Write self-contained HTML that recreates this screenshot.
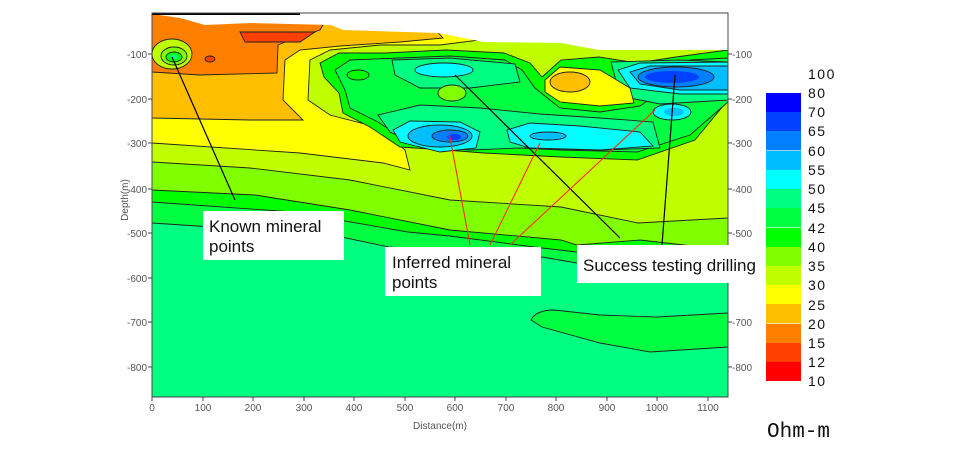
<!DOCTYPE html>
<html><head><meta charset="utf-8"><style>
html,body{margin:0;padding:0;background:#fff;}
svg{display:block;}
.t{font-family:"Liberation Sans",sans-serif;font-size:10px;fill:#555;}
.a{font-family:"Liberation Sans",sans-serif;font-size:17px;fill:#111;}
.c{stroke:#222;stroke-width:0.9;}
</style></head><body>
<svg width="960" height="476" viewBox="0 0 960 476" xmlns="http://www.w3.org/2000/svg">
<defs><clipPath id="pc"><rect x="152" y="13" width="576" height="384"/></clipPath></defs>
<g clip-path="url(#pc)">
<rect x="152" y="13" width="576" height="384" fill="#00ff80"/>
<path class="c" d="M152,13 H728 V270 L640,262 577,263 542,257 389,247 332,235 152,223 Z" fill="#00ff40"/>
<path class="c" d="M152,13 H728 V262 L640,252 577,252 542,248 450,236 408,232 293,212 152,202 Z" fill="#00ff00"/>
<path class="c" d="M152,13 H728 V250 L640,240 577,245 561,240 450,230 350,210 255,195 152,190 Z" fill="#80ff00"/>
<path class="c" d="M152,13 H728 V218 L638,223 561,207 450,200 350,180 250,168 152,162 Z" fill="#bfff00"/>
<path class="c" d="M152,13 H500 L480,40 440,45 380,45 330,50 310,60 308,100 330,115 380,128 405,150 410,170 383,163 300,153 152,143 Z" fill="#ffff00"/>
<path class="c" d="M152,13 H420 L443,38 400,42 340,46 300,50 285,60 283,100 303,120 250,120 152,118 Z" fill="#ffbf00"/>
<path class="c" d="M152,13 H330 L320,30 290,40 278,45 277,73 200,75 152,72 Z" fill="#ff8000"/>
<path class="c" d="M240,32 L315,32 L300,42 L245,42 Z" fill="#ff4000"/>
<ellipse cx="210" cy="59" rx="5" ry="3" fill="#ff4000" class="c"/>
<ellipse cx="172" cy="54" rx="20" ry="15" fill="#bfff00" class="c"/>
<ellipse cx="174" cy="56" rx="13" ry="9" fill="#80ff00" class="c"/>
<ellipse cx="174" cy="57" rx="8" ry="5" fill="#00ff00" class="c"/>
<ellipse cx="174" cy="57" rx="4" ry="2.5" fill="#00ff80"/>
<path class="c" d="M320,63 339,53 385,53 446,50 504,53 530,63 542,77 561,60 599,57 637,63 676,57 728,50 728,100 695,140 637,160 561,157 484,153 446,150 400,147 370,127 343,113 339,93 324,77Z" fill="#00ff00"/>
<path class="c" d="M335,70 350,60 400,58 450,56 505,60 522,70 535,88 560,108 600,112 640,106 660,92 640,70 690,60 728,58 728,102 690,135 637,152 560,150 484,146 445,143 405,140 378,122 350,108 345,90Z" fill="#00ff40"/>
<path class="c" d="M392,60 450,58 515,64 520,82 470,88 420,88 395,75Z M378,115 420,105 480,108 540,114 600,118 653,122 660,148 600,150 520,148 470,150 420,146 390,132Z M611,62 680,60 728,62 728,100 660,104 620,96Z" fill="#00ff80"/>
<ellipse cx="452" cy="93" rx="14" ry="8" fill="#80ff00" class="c"/>
<ellipse cx="358" cy="75" rx="11" ry="5" fill="#00ff00" class="c"/>
<path class="c" d="M545,80 560,67 600,70 630,88 634,103 600,106 560,102 545,92Z" fill="#ffff00"/>
<ellipse cx="570" cy="82" rx="20" ry="10" fill="#ffbf00" class="c"/>
<ellipse cx="444" cy="70" rx="29" ry="7" fill="#00ffff" class="c"/>
<path class="c" d="M393,130 410,121 460,122 480,132 476,148 440,152 400,142Z" fill="#00ffff"/>
<ellipse cx="440" cy="136" rx="32" ry="11" fill="#00bfff" class="c"/>
<ellipse cx="450" cy="136" rx="18" ry="6" fill="#0080ff" class="c"/>
<ellipse cx="454" cy="137" rx="7" ry="3" fill="#0040ff"/>
<path class="c" d="M507,130 530,123 580,126 640,132 653,146 600,150 530,148 510,142Z" fill="#00ffff"/>
<ellipse cx="548" cy="136" rx="18" ry="4" fill="#00bfff" class="c"/>
<path class="c" d="M618,70 640,63 728,62 728,94 680,94 630,88Z" fill="#00ffff"/>
<path class="c" d="M630,72 650,66 728,66 728,90 680,90 640,84Z" fill="#00bfff"/>
<ellipse cx="676" cy="77" rx="38" ry="10" fill="#0080ff" class="c"/>
<ellipse cx="672" cy="77" rx="27" ry="6" fill="#0040ff"/>
<ellipse cx="672" cy="112" rx="19" ry="8" fill="#00ffff" class="c"/>
<ellipse cx="674" cy="112" rx="10" ry="4" fill="#00bfff"/>
<path class="c" d="M531,320 C535,312 545,310 554,310 L600,315 657,317 728,313 V347 L650,352 600,343 542,327 Z" fill="#00ff40"/>
<path d="M152,13 L152,14 L180,18 205,25 251,23 331,25 343,30 438,33 484,42 561,43 599,50 680,50 728,50 V13 Z" fill="#fff"/>
<path d="M152,13 H300 V15 H152Z" fill="#000"/>
</g>
<rect x="152" y="13" width="576" height="384" fill="none" stroke="#444" stroke-width="1"/>
<g stroke="#444" stroke-width="1">
<path d="M152,397v4M203,397v4M253,397v4M304,397v4M354,397v4M405,397v4M455,397v4M506,397v4M556,397v4M607,397v4M657,397v4M708,397v4"/>
<path d="M148,54h4M148,99h4M148,143h4M148,189h4M148,233h4M148,278h4M148,322h4M148,367h4"/>
<path d="M728,54h4M728,99h4M728,143h4M728,189h4M728,233h4M728,278h4M728,322h4M728,367h4"/>
</g>
<g class="t" text-anchor="middle">
<text x="152" y="411">0</text><text x="203" y="411">100</text><text x="253" y="411">200</text><text x="304" y="411">300</text><text x="354" y="411">400</text><text x="405" y="411">500</text><text x="455" y="411">600</text><text x="506" y="411">700</text><text x="556" y="411">800</text><text x="607" y="411">900</text><text x="657" y="411">1000</text><text x="708" y="411">1100</text>
<text x="440" y="429">Distance(m)</text>
</g>
<g class="t" text-anchor="end">
<text x="147" y="58">-100</text><text x="147" y="103">-200</text><text x="147" y="147">-300</text><text x="147" y="193">-400</text><text x="147" y="237">-500</text><text x="147" y="282">-600</text><text x="147" y="326">-700</text><text x="147" y="371">-800</text>
</g>
<g class="t">
<text x="732" y="58">-100</text><text x="732" y="103">-200</text><text x="732" y="147">-300</text><text x="732" y="193">-400</text><text x="732" y="237">-500</text><text x="732" y="282">-600</text><text x="732" y="326">-700</text><text x="732" y="371">-800</text>
</g>
<text class="t" transform="translate(128,200) rotate(-90)" text-anchor="middle">Depth(m)</text>
<g stroke="#000" stroke-width="1.2">
<line x1="172" y1="57" x2="235" y2="200"/>
<line x1="455" y1="75" x2="620" y2="238"/>
<line x1="675" y1="75" x2="662" y2="245"/>
</g>
<g stroke="#ff2a1a" stroke-width="1.1">
<line x1="449" y1="132" x2="470" y2="245"/>
<line x1="540" y1="143" x2="490" y2="245"/>
<line x1="655" y1="110" x2="510" y2="245"/>
</g>
<rect x="203" y="211" width="141" height="49" fill="#fff"/>
<text class="a" x="209" y="232">Known mineral</text><text class="a" x="209" y="252">points</text>
<rect x="385" y="247" width="156" height="49" fill="#fff"/>
<text class="a" x="392" y="268">Inferred mineral</text><text class="a" x="392" y="288">points</text>
<rect x="577" y="245" width="205" height="38" fill="#fff"/>
<text class="a" x="583" y="271">Success testing drilling</text>
<g>
<rect x="766" y="93" width="35" height="19.2" fill="#0000ff"/>
<rect x="766" y="112" width="35" height="19.4" fill="#0040ff"/>
<rect x="766" y="131" width="35" height="19.4" fill="#0080ff"/>
<rect x="766" y="151" width="35" height="19.4" fill="#00bfff"/>
<rect x="766" y="170" width="35" height="19.4" fill="#00ffff"/>
<rect x="766" y="189" width="35" height="19.4" fill="#00ff80"/>
<rect x="766" y="208" width="35" height="19.4" fill="#00ff40"/>
<rect x="766" y="228" width="35" height="19.4" fill="#00ff00"/>
<rect x="766" y="247" width="35" height="19.4" fill="#80ff00"/>
<rect x="766" y="266" width="35" height="19.4" fill="#bfff00"/>
<rect x="766" y="285" width="35" height="19.4" fill="#ffff00"/>
<rect x="766" y="304" width="35" height="19.4" fill="#ffbf00"/>
<rect x="766" y="324" width="35" height="19.4" fill="#ff8000"/>
<rect x="766" y="343" width="35" height="19.4" fill="#ff4000"/>
<rect x="766" y="362" width="35" height="19" fill="#ff0000"/>
</g>
<g font-family="'Liberation Sans',sans-serif" font-size="14" fill="#111" letter-spacing="1.5">
<text x="808" y="79">100</text><text x="808" y="98">80</text><text x="808" y="117">70</text><text x="808" y="136">65</text><text x="808" y="156">60</text><text x="808" y="175">55</text><text x="808" y="194">50</text><text x="808" y="213">45</text><text x="808" y="233">42</text><text x="808" y="252">40</text><text x="808" y="271">35</text><text x="808" y="290">30</text><text x="808" y="310">25</text><text x="808" y="329">20</text><text x="808" y="348">15</text><text x="808" y="367">12</text><text x="808" y="386">10</text>
</g>
<text x="767" y="437" font-family="'Liberation Mono',monospace" font-size="21" fill="#111">Ohm-m</text>
</svg>
</body></html>
